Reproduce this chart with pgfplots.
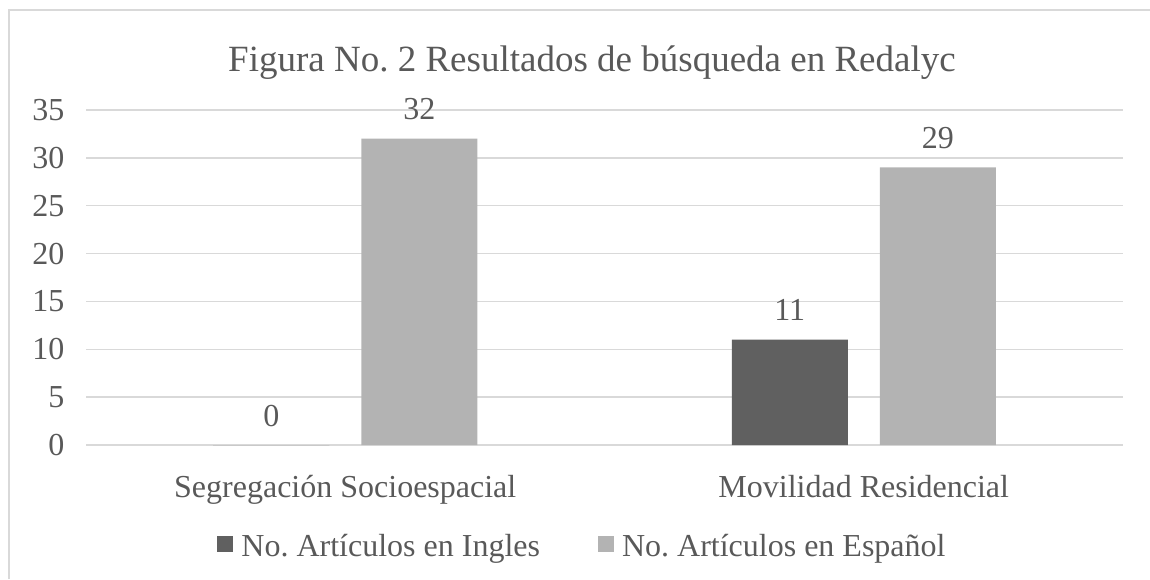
\documentclass[border=0pt]{standalone}
\usepackage{pgfplots}
\pgfplotsset{compat=1.18}
\usepackage{fontspec}
\setmainfont{Liberation Serif}
\definecolor{txt}{HTML}{595959}
\definecolor{gridc}{HTML}{D9D9D9}
\definecolor{dark}{HTML}{606060}
\definecolor{light}{HTML}{B3B3B3}
\frenchspacing
\begin{document}
\frenchspacing
\begin{tikzpicture}
\useasboundingbox (0,0) rectangle (1150pt,579pt);
\draw[gridc, line width=1.3pt] (9pt,0pt) -- (9pt,569pt) -- (1150pt,569pt);
\node[text=txt, font=\fontsize{37}{40}\selectfont] at (592pt,516pt) {Figura No. 2 Resultados de búsqueda en Redalyc};
\begin{axis}[
  at={(86pt,134pt)}, anchor=south west,
  scale only axis, width=1037pt, height=335pt,
  xmin=-0.5, xmax=1.5, ymin=0, ymax=35,
  ybar, bar width=116pt,
  xtick={0,1}, xticklabels={Segregación Socioespacial, Movilidad Residencial},
  ytick={0,5,...,35},
  ymajorgrids, xmajorgrids=false,
  grid style={gridc, line width=1.3pt},
  axis line style={draw=none}, tick style={draw=none},
  ticklabel style={text=txt, font=\fontsize{32}{36}\selectfont},
  /pgf/number format/assume math mode=true,
  xticklabel style={anchor=base, yshift=-48pt},
  yticklabel style={anchor=east, xshift=-18pt},
  nodes near coords,
  every node near coord/.append style={anchor=base, yshift=19pt, text=txt, font=\fontsize{32}{36}\selectfont, /pgf/number format/assume math mode=true},
  legend columns=2,
  legend style={draw=none, fill=none, at={(0.4817,-0.3015)}, anchor=center,
    font=\fontsize{32}{36}\selectfont, text=txt,
    /tikz/every even column/.append style={column sep=50pt},
    nodes={inner xsep=8pt}},
  legend image code/.code={\fill[#1] (0pt,-6pt) rectangle (16pt,10pt);},
]
\addplot[fill=dark, draw=none, bar shift=-74pt] coordinates {(0,0) (1,11)};
\addplot[fill=light, draw=none, bar shift=74pt] coordinates {(0,32) (1,29)};
\legend{No. Artículos en Ingles, No. Artículos en Español}
\end{axis}
\end{tikzpicture}
\end{document}
